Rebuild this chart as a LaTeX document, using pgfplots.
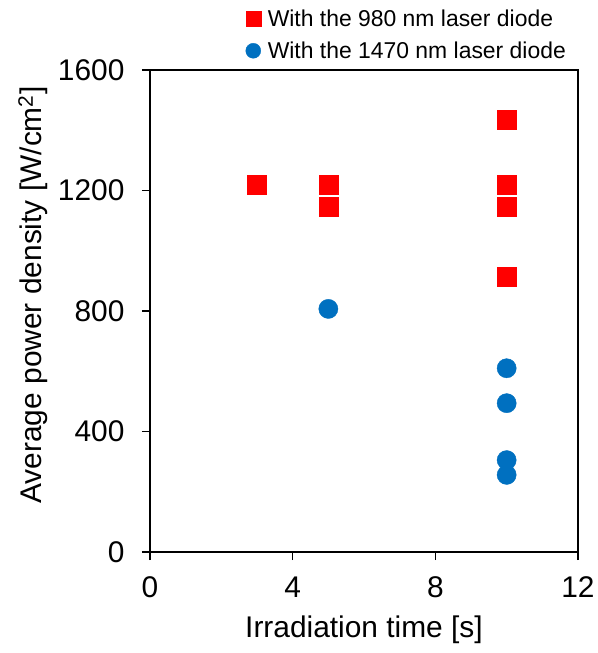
\documentclass[border=0pt]{standalone}
\usepackage{fontspec}
\setmainfont{Liberation Sans}
\usepackage{pgfplots}
\pgfplotsset{compat=1.18}
\definecolor{myred}{HTML}{FF0000}
\definecolor{myblue}{HTML}{0070C0}
\begin{document}
\begin{tikzpicture}
\begin{axis}[
  name=ax,
  scale only axis,
  width=428bp, height=482bp,
  xmin=0, xmax=12, ymin=0, ymax=1600,
  xtick={0,4,8,12}, ytick={0,400,800,1200,1600},
  tick pos=left, tick align=outside,
  major tick length=8bp,
  axis line style={line width=1.4bp},
  every tick/.style={line width=1.4bp, black},
  /pgf/number format/assume math mode=true,
  /pgf/number format/1000 sep={},
  tick label style={font=\fontsize{30}{34}\selectfont},
  xticklabel style={yshift=-13bp},
  yticklabel style={xshift=-14bp},
  label style={font=\fontsize{30}{35}\selectfont},
  xlabel={Irradiation time [s]},
  xlabel style={at={(axis description cs:0.5,0)}, anchor=base, yshift=-85bp},
  ylabel={Average power density [W/cm\textsuperscript{2}]},
  ylabel style={at={(axis description cs:-0.273,0.533)}, anchor=center},
  legend cell align=left,
  legend style={draw=none, fill=none, at={(axis description cs:1.0,1.0)}, anchor=south east,
    xshift=-8bp, yshift=6bp,
    font=\fontsize{23}{27}\selectfont, row sep=10bp, inner sep=2bp,
    /tikz/every odd column/.append style={column sep=5bp}},
  clip=false,
]
\addlegendimage{only marks, mark=square*, color=myred, mark size=7.5bp}
\addlegendentry{With the 980 nm laser diode}
\addlegendimage{only marks, mark=*, color=myblue, mark size=7.5bp}
\addlegendentry{With the 1470 nm laser diode}
\addplot[forget plot, only marks, mark=square*, color=myred, mark size=9.4bp, mark options={rounded corners=1.5bp}] coordinates {
(3,1218) (5,1218) (5,1145) (10,1434) (10,1218) (10,1145) (10,913)
};
\addplot[forget plot, only marks, mark=*, color=myblue, mark size=9.6bp] coordinates {
(5,807) (10,610) (10,494) (10,305) (10,256)
};
\end{axis}
\path (ax.south west) ++(-150bp,-101bp) rectangle ++(598bp,653bp);
\end{tikzpicture}
\end{document}
